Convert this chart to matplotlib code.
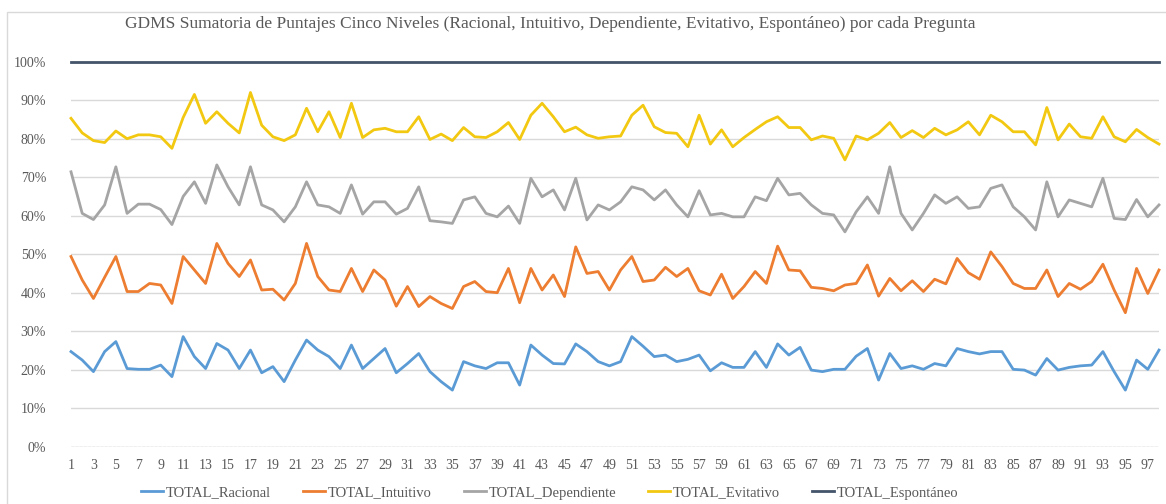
import matplotlib
matplotlib.use("Agg")
import matplotlib.pyplot as plt
from matplotlib.ticker import PercentFormatter, FixedLocator
from matplotlib.patches import Rectangle

preguntas = list(range(1, 99))

racional = [24.7, 22.5, 19.5, 24.7, 27.3, 20.3, 20.1, 20.1, 21.2, 18.2,
            28.6, 23.4, 20.3, 26.8, 25.1, 20.3, 25.1, 19.2, 20.8, 16.9,
            22.5, 27.7, 25.1, 23.4, 20.3, 26.4, 20.3, 22.9, 25.5, 19.2,
            21.6, 24.2, 19.5, 16.9, 14.7, 22.1, 21.0, 20.3, 21.8, 21.8,
            16.0, 26.4, 23.8, 21.6, 21.5, 26.7, 24.7, 22.1, 21.0, 22.1,
            28.6, 26.1, 23.4, 23.8, 22.1, 22.7, 23.8, 19.7, 21.8, 20.6,
            20.6, 24.7, 20.6, 26.7, 23.8, 25.8, 19.9, 19.5, 20.1, 20.1,
            23.5, 25.5, 17.3, 24.2, 20.3, 21.0, 20.1, 21.6, 21.0, 25.5,
            24.7, 24.1, 24.7, 24.7, 20.1, 19.9, 18.6, 22.9, 19.9, 20.6,
            21.0, 21.2, 24.7, 19.5, 14.7, 22.5, 20.1, 25.1]

intuitivo = [49.4, 43.3, 38.5, 44.0, 49.4, 40.3, 40.3, 42.4, 42.0, 37.2,
             49.4, 45.9, 42.4, 52.8, 47.6, 44.2, 48.5, 40.7, 40.9, 38.1,
             42.4, 52.8, 44.2, 40.7, 40.3, 46.3, 40.3, 45.9, 43.3, 36.5,
             41.6, 36.4, 39.0, 37.2, 35.9, 41.6, 42.9, 40.3, 40.0, 46.3,
             37.4, 46.3, 40.7, 44.6, 39.0, 51.9, 45.0, 45.5, 40.7, 45.9,
             49.4, 42.9, 43.3, 46.6, 44.2, 46.3, 40.5, 39.4, 44.8, 38.5,
             41.6, 45.5, 42.4, 52.1, 45.9, 45.7, 41.4, 41.1, 40.5, 42.0,
             42.4, 47.2, 39.1, 43.7, 40.5, 43.1, 40.3, 43.5, 42.3, 48.9,
             45.2, 43.5, 50.6, 46.8, 42.4, 41.1, 41.1, 45.9, 39.0, 42.4,
             40.9, 42.9, 47.4, 40.7, 34.8, 46.3, 39.8, 45.9]

dependiente = [71.4, 60.6, 59.0, 62.8, 72.7, 60.6, 63.0, 63.0, 61.6, 57.7,
               65.0, 68.8, 63.2, 73.2, 67.5, 62.8, 72.7, 62.8, 61.5, 58.4,
               62.3, 68.8, 62.8, 62.3, 60.6, 68.0, 60.4, 63.6, 63.6, 60.4,
               61.9, 67.5, 58.7, 58.4, 58.0, 64.1, 64.9, 60.6, 59.7, 62.5,
               58.0, 69.7, 64.9, 66.7, 61.5, 69.7, 58.9, 62.8, 61.5, 63.6,
               67.5, 66.7, 64.1, 66.7, 62.8, 59.7, 66.5, 60.2, 60.6, 59.7,
               59.7, 64.9, 63.9, 69.7, 65.4, 65.8, 62.8, 60.6, 60.2, 55.8,
               61.0, 64.9, 60.6, 72.7, 60.6, 56.3, 60.6, 65.4, 63.2, 64.9,
               61.9, 62.3, 67.1, 68.0, 62.3, 59.7, 56.3, 68.8, 59.7, 64.1,
               63.2, 62.3, 69.7, 59.3, 59.0, 64.2, 59.7, 62.8]

evitativo = [85.3, 81.5, 79.5, 79.0, 82.0, 80.0, 81.0, 81.0, 80.5, 77.5,
             85.5, 91.5, 84.0, 87.0, 84.0, 81.5, 92.0, 83.5, 80.5, 79.5,
             81.0, 87.9, 81.8, 87.0, 80.3, 89.2, 80.3, 82.3, 82.7, 81.8,
             81.8, 85.7, 79.8, 81.2, 79.5, 82.9, 80.5, 80.3, 81.8, 84.2,
             79.8, 86.1, 89.2, 85.7, 81.8, 83.0, 81.0, 80.1, 80.5, 80.7,
             86.1, 88.7, 83.1, 81.6, 81.4, 77.9, 86.1, 78.6, 82.3, 77.9,
             80.3, 82.4, 84.4, 85.7, 82.9, 82.9, 79.7, 80.7, 80.1, 74.5,
             80.7, 79.7, 81.4, 84.2, 80.3, 82.1, 80.3, 82.7, 81.0, 82.3,
             84.4, 81.0, 86.1, 84.4, 81.8, 81.8, 78.4, 88.1, 79.7, 83.8,
             80.5, 80.1, 85.7, 80.5, 79.2, 82.4, 80.3, 78.6]

espontaneo = [100.0] * 98

series_names = ["TOTAL_Racional", "TOTAL_Intuitivo", "TOTAL_Dependiente",
                "TOTAL_Evitativo", "TOTAL_Espontáneo"]
series_values = [racional, intuitivo, dependiente, evitativo, espontaneo]
series_colors = ["#5B9BD5", "#ED7D31", "#A5A5A5", "#F2C811", "#44546A"]

y_ticks = [0, 10, 20, 30, 40, 50, 60, 70, 80, 90, 100]
x_tick_labels = [str(i) for i in range(1, 98, 2)]

title = ("GDMS Sumatoria de Puntajes Cinco Niveles (Racional, Intuitivo, "
         "Dependiente, Evitativo, Espontáneo) por cada Pregunta")

plt.rcParams["font.family"] = ["Liberation Serif", "DejaVu Serif"]
text_color = "#595959"

W, H = 1166, 504
fig = plt.figure(figsize=(W / 100, H / 100), dpi=100)
fig.patch.set_facecolor("white")

# chart border (left/top visible)
fig.patches.append(Rectangle((7 / W, -0.1), 1.2, 1 - 12 / H + 0.1,
                             transform=fig.transFigure, fill=False,
                             edgecolor="#d9d9d9", lw=1.0))

ax = fig.add_axes([71 / W, 57.3 / H, (1159 - 71) / W, (446.7 - 61.7) / H])
ax.set_facecolor("none")

for name, vals, col in zip(series_names, series_values, series_colors):
    ax.plot(preguntas, vals, color=col, lw=2.0, label=name,
            solid_joinstyle="round", clip_on=False, zorder=3)

ax.set_xlim(preguntas[0], preguntas[-1])
ax.set_ylim(0, 100)
ax.yaxis.set_major_locator(FixedLocator(y_ticks))
ax.yaxis.set_major_formatter(PercentFormatter(xmax=100, decimals=0))
ax.set_xticks(list(range(1, 98, 2)))
ax.set_xticklabels(x_tick_labels)
ax.grid(axis="y", color="#d9d9d9", lw=1.0, zorder=0)
ax.grid(axis="x", visible=False)
for s in ax.spines.values():
    s.set_visible(False)
ax.axhline(0, color="#d0d0d0", lw=1.0, ls=(0, (2, 1)), zorder=1)
ax.tick_params(axis="both", length=0, colors=text_color, labelsize=10)
ax.tick_params(axis="x", pad=9)
ax.tick_params(axis="y", pad=18)

fig.text(550 / W, 1 - 28 / H, title, ha="center", va="baseline",
         fontsize=12.5, color=text_color)

leg = fig.legend(loc="center", bbox_to_anchor=(550 / W, 1 - 493 / H),
                 ncol=5, frameon=False, fontsize=10.5, handlelength=1.5,
                 handletextpad=0.2, columnspacing=2.2)
for t in leg.get_texts():
    t.set_color(text_color)

fig.savefig("out.png", dpi=100)
